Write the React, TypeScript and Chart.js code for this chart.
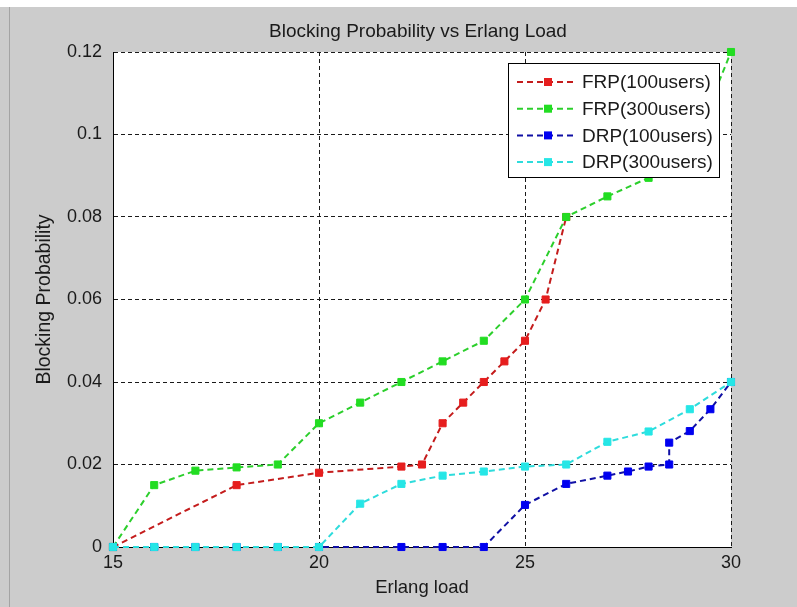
import React, { useEffect, useRef } from "react";
import { Chart, registerables } from "chart.js";

Chart.register(...registerables);

// ---- data ----
const chartTitle = "Blocking Probability vs Erlang Load";
const xTicks = [15, 20, 25, 30];
const yTicks = [0, 0.02, 0.04, 0.06, 0.08, 0.1, 0.12];

const seriesNames = ["FRP(100users)", "FRP(300users)", "DRP(100users)", "DRP(300users)"];

const frp100X = [15, 18, 20, 22, 22.5, 23, 23.5, 24, 24.5, 25, 25.5, 26];
const frp100Y = [0, 0.015, 0.018, 0.0195, 0.02, 0.03, 0.035, 0.04, 0.045, 0.05, 0.06, 0.08];

const frp300X = [15, 16, 17, 18, 19, 20, 21, 22, 23, 24, 25, 26, 27, 28, 29, 30];
const frp300Y = [0, 0.015, 0.0185, 0.0193, 0.02, 0.03, 0.035, 0.04, 0.045, 0.05, 0.06, 0.08, 0.085, 0.0895, 0.0955, 0.12];

const drp100X = [15, 16, 17, 18, 19, 20, 22, 23, 24, 25, 26, 27, 27.5, 28, 28.5, 28.5, 29, 29.5, 30];
const drp100Y = [0, 0, 0, 0, 0, 0, 0, 0, 0, 0.0102, 0.0153, 0.0173, 0.0183, 0.0195, 0.02, 0.0253, 0.0281, 0.0334, 0.04];

const drp300X = [15, 16, 17, 18, 19, 20, 21, 22, 23, 24, 25, 26, 27, 28, 29, 30];
const drp300Y = [0, 0, 0, 0, 0, 0, 0.0105, 0.0153, 0.0173, 0.0183, 0.0195, 0.02, 0.0255, 0.028, 0.0334, 0.04];

// ---- styles ----
const lineColors = ["#c41c1c", "#2ccf2c", "#1010a4", "#2edcdc"];
const markerColors = ["#e61e1e", "#22dd22", "#0000f0", "#26e6e6"];
const FONT = "'Liberation Sans', Arial, sans-serif";

const pairs = (xs: number[], ys: number[]) => xs.map((x, i) => ({ x, y: ys[i] }));

const bgPlugin = {
  id: "bgPlugin",
  beforeDraw(chart: any) {
    const { ctx, width, height, chartArea } = chart;
    ctx.save();
    ctx.fillStyle = "#ffffff";
    ctx.fillRect(0, 0, width, height);
    ctx.fillStyle = "#cccccc";
    ctx.fillRect(0, 7, width, height - 7);
    ctx.fillStyle = "#a4a4a4";
    ctx.fillRect(9, 7, 1, height - 7);
    ctx.fillStyle = "#ffffff";
    ctx.fillRect(chartArea.left, chartArea.top, chartArea.right - chartArea.left, chartArea.bottom - chartArea.top);
    ctx.fillStyle = "#1a1a1a";
    ctx.font = `19px ${FONT}`;
    ctx.textAlign = "center";
    ctx.textBaseline = "middle";
    ctx.fillText(chartTitle, (chartArea.left + chartArea.right) / 2 - 4, 32);
    ctx.restore();
  },
};

const legendPlugin = {
  id: "matlabLegend",
  afterDatasetsDraw(chart: any) {
    const { ctx } = chart;
    const bx = 508, by = 63, bw = 211, bh = 114;
    ctx.save();
    ctx.fillStyle = "#ffffff";
    ctx.fillRect(bx, by, bw, bh);
    ctx.strokeStyle = "#000000";
    ctx.lineWidth = 1;
    ctx.strokeRect(bx + 0.5, by + 0.5, bw, bh);
    seriesNames.forEach((name, i) => {
      const y = 82 + i * 26.7;
      ctx.strokeStyle = lineColors[i];
      ctx.lineWidth = 2;
      ctx.setLineDash([6, 4]);
      ctx.beginPath();
      ctx.moveTo(517, y);
      ctx.lineTo(576, y);
      ctx.stroke();
      ctx.setLineDash([]);
      ctx.fillStyle = markerColors[i];
      ctx.fillRect(544, y - 4, 8, 8);
      ctx.fillStyle = "#1a1a1a";
      ctx.font = `19px ${FONT}`;
      ctx.textBaseline = "middle";
      ctx.textAlign = "left";
      ctx.fillText(name, 582, y + 1);
    });
    ctx.restore();
  },
};

export default function App() {
  const ref = useRef<HTMLCanvasElement | null>(null);

  useEffect(() => {
    if (!ref.current) return;
    const xs = [frp100X, frp300X, drp100X, drp300X];
    const ys = [frp100Y, frp300Y, drp100Y, drp300Y];
    const chart = new Chart(ref.current, {
      type: "line",
      data: {
        datasets: seriesNames.map((name, i) => ({
          label: name,
          data: pairs(xs[i], ys[i]),
          borderColor: lineColors[i],
          backgroundColor: markerColors[i],
          borderWidth: 2,
          borderDash: [6, 4],
          pointStyle: "rect",
          pointRadius: 5,
          pointBorderWidth: 1,
          pointBackgroundColor: markerColors[i],
          pointBorderColor: markerColors[i],
          fill: false,
          tension: 0,
          clip: false as any,
          order: 3 - i,
        })),
      },
      options: {
        responsive: false,
        animation: false,
        devicePixelRatio: 1,
        layout: { padding: { left: 0, right: 66, top: 52, bottom: 0 } },
        plugins: {
          legend: { display: false },
          tooltip: { enabled: false },
          title: { display: false },
        },
        scales: {
          x: {
            type: "linear",
            min: 15,
            max: 30,
            afterBuildTicks: (s: any) => {
              s.ticks = xTicks.map((v) => ({ value: v }));
            },
            afterFit: (s: any) => {
              s.height = 60;
            },
            ticks: {
              color: "#1a1a1a",
              font: { family: FONT, size: 18 },
              padding: 5,
              maxRotation: 0,
              callback: (v: any) => String(v),
            },
            grid: { color: "#1a1a1a", lineWidth: 1, drawTicks: false },
            border: { display: true, color: "#000000", width: 1, dash: [4, 3] },
            title: {
              display: true,
              text: "Erlang load",
              color: "#1a1a1a",
              font: { family: FONT, size: 18.5 },
              padding: { top: 0, bottom: 8 },
            },
          },
          y: {
            type: "linear",
            min: 0,
            max: 0.12,
            afterBuildTicks: (s: any) => {
              s.ticks = yTicks.map((v) => ({ value: v }));
            },
            afterFit: (s: any) => {
              s.width = 113;
            },
            ticks: {
              color: "#1a1a1a",
              font: { family: FONT, size: 18 },
              padding: 11,
              callback: (v: any) => String(Math.round(Number(v) * 100) / 100),
            },
            grid: { color: "#1a1a1a", lineWidth: 1, drawTicks: false },
            border: { display: true, color: "#000000", width: 1, dash: [4, 3] },
            title: {
              display: true,
              text: "Blocking Probability",
              color: "#1a1a1a",
              font: { family: FONT, size: 19.5 },
              padding: { top: 33, bottom: 0 },
            },
          },
        },
      },
      plugins: [bgPlugin, legendPlugin],
    } as any);
    return () => chart.destroy();
  }, []);

  return (
    <div style={{ position: "fixed", left: 0, top: 0, width: 797, height: 607 }}>
      <canvas ref={ref} width={797} height={607} style={{ display: "block", width: 797, height: 607 }} />
    </div>
  );
}
